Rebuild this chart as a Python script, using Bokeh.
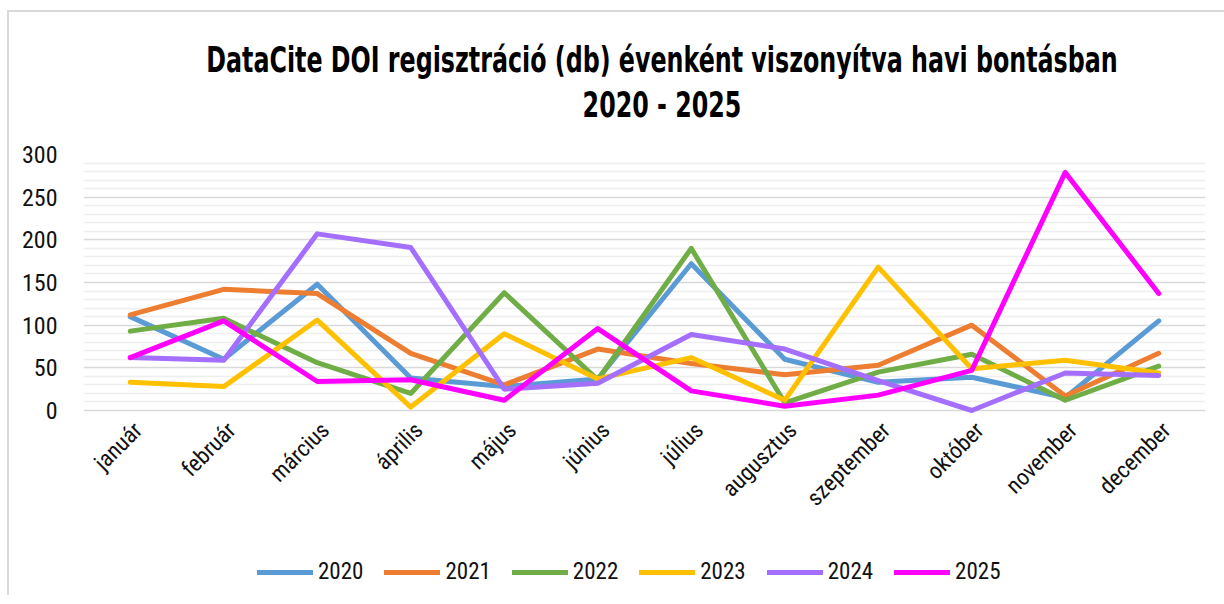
import math
from bokeh.plotting import figure
from bokeh.layouts import column
from bokeh.models import (FactorRange, Range1d, FixedTicker, Div, Legend, LegendItem)
from bokeh.core.properties import value
from bokeh.embed import file_html
from bokeh.resources import INLINE

months = ["január", "február", "március", "április", "május", "június",
          "július", "augusztus", "szeptember", "október", "november", "december"]
years = ["2020", "2021", "2022", "2023", "2024", "2025"]
v2020 = [110, 60, 148, 38, 28, 37, 172, 60, 33, 39, 15, 105]
v2021 = [112, 142, 137, 67, 30, 72, 55, 42, 53, 100, 17, 67]
v2022 = [93, 108, 56, 20, 138, 36, 190, 9, 45, 66, 12, 52]
v2023 = [33, 28, 106, 4, 90, 37, 62, 12, 168, 49, 59, 44]
v2024 = [62, 59, 207, 191, 25, 32, 89, 72, 35, 0, 44, 41]
v2025 = [62, 105, 34, 36, 12, 96, 23, 5, 18, 47, 279, 137]
series = [v2020, v2021, v2022, v2023, v2024, v2025]
colors = ["#5B9BD5", "#ED7D31", "#70AD47", "#FFC000", "#A46EFF", "#FF00FF"]
y_ticks = [0, 50, 100, 150, 200, 250, 300]
y_minor = [v for v in range(0, 301, 10) if v % 50]
title1 = "DataCite DOI regisztráció (db) évenként viszonyítva havi bontásban"
title2 = "2020 - 2025"

FONT = "Roboto Condensed, DejaVu Sans Condensed, sans-serif"

span_style = ("position:absolute;left:653px;white-space:nowrap;line-height:42px;"
              "transform:translateX(-50%) scaleX(0.755);")
title_div = Div(
    text=(f'<div style="position:relative;width:1215px;height:120px;'
          f'font-family:\'DejaVu Sans Condensed\',sans-serif;font-weight:bold;font-size:35px;color:#000;">'
          f'<span style="{span_style}top:27px;">{title1}</span>'
          f'<span style="{span_style}top:72px;">{title2}</span></div>'),
    width=1215, height=120, margin=0)

# geometry: plot area 256 px tall for 0..300, extended below 0 to hold month labels + legend
FIG_H, TOP, BOTTOM = 463, 22, 6
frame_h = FIG_H - TOP - BOTTOM
y_start = -300 * (frame_h - 256) / 256

p = figure(width=1206, height=FIG_H, x_range=FactorRange(*months), y_range=Range1d(y_start, 300),
           output_backend="svg", toolbar_location=None, margin=0, x_axis_location=None,
           min_border_left=74, min_border_right=10, min_border_top=TOP, min_border_bottom=BOTTOM)
p.outline_line_color = None

renderers = []
for vals, c in zip(series, colors):
    renderers.append(p.line(months, vals, line_color=c, line_width=5,
                            line_cap="round", line_join="round"))

# month labels under the zero line
p.text(x=months, y=[0] * len(months), text=months, angle=math.pi / 4,
       text_align="right", text_baseline="middle", x_offset=8, y_offset=16,
       text_font=value(FONT), text_font_size="23px", text_color="#111111")

# y axis
p.yaxis.ticker = FixedTicker(ticks=y_ticks, minor_ticks=y_minor)
p.yaxis.axis_line_color = None
p.yaxis.major_tick_line_color = None
p.yaxis.minor_tick_line_color = None
p.yaxis.major_label_text_font = FONT
p.yaxis.major_label_text_color = "#111111"
p.yaxis.major_label_text_font_size = "24px"
p.yaxis.major_label_standoff = 20

p.xgrid.grid_line_color = None
p.ygrid.grid_line_color = "#d9d9d9"
p.ygrid.grid_line_width = 1.5
p.ygrid.minor_grid_line_color = "#eeeeee"
p.ygrid.minor_grid_line_width = 1.5

# legend
items = [LegendItem(label=yr, renderers=[r]) for yr, r in zip(years, renderers)]
legend = Legend(items=items, orientation="horizontal", location=(174, 4),
                glyph_width=56, glyph_height=20, label_standoff=5, spacing=21,
                padding=0, border_line_color=None, background_fill_alpha=0,
                label_text_font=FONT, label_text_font_size="23px", label_text_color="#111111")
p.add_layout(legend, "center")

layout = column(title_div, p, spacing=0, margin=0)
layout.styles = {"border-top": "2px solid #d9d9d9", "border-left": "2px solid #d9d9d9",
                 "margin-top": "10px", "margin-left": "7px"}

open("out.html", "w").write(file_html(layout, INLINE))
